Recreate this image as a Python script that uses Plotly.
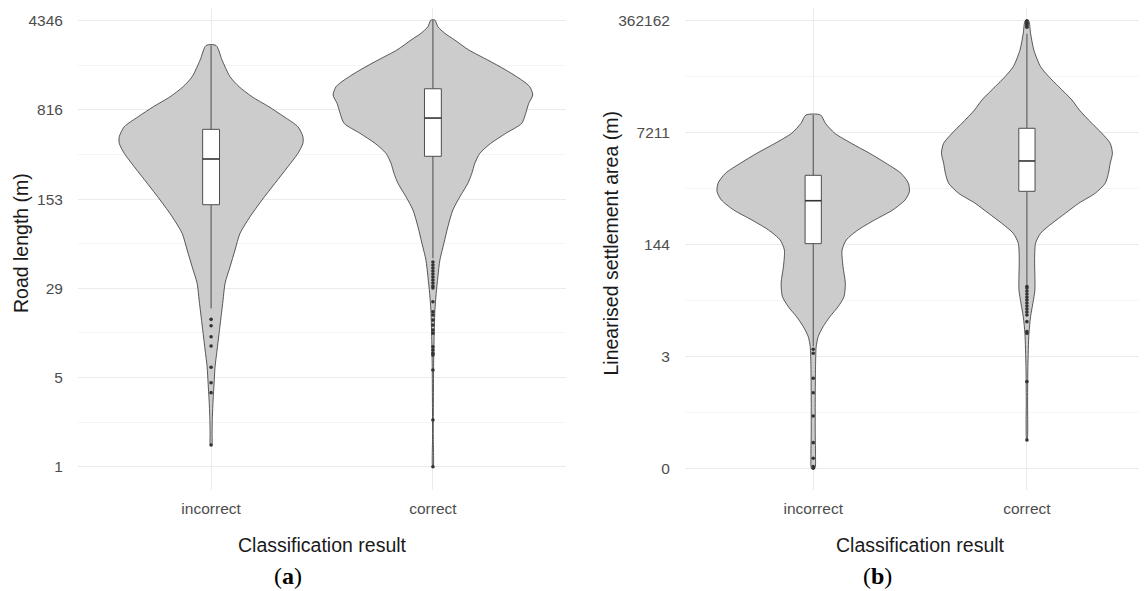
import numpy as np
import plotly.graph_objects as go

CATEGORIES = ["incorrect", "correct"]
X_TITLE = "Classification result"

# ---------------- Panel (a): road length, values given as log10(m) ----------------
A_TICK_LABELS = ["1", "5", "29", "153", "816", "4346"]
A_AXIS_MIN, A_AXIS_MAX = 1.0, 4346.0

# violin outline: log10 level and relative density (1 = widest violin of the panel)
A_INC_LOG10 = [3.436, 3.317, 3.181, 3.100, 3.018, 2.936, 2.855, 2.773, 2.692, 2.638, 2.556,
               2.447, 2.312, 2.175, 2.039, 1.904, 1.768, 1.631, 1.496, 1.360, 1.223, 1.088,
               0.952, 0.816, 0.680, 0.544, 0.408, 0.272, 0.177]
A_INC_DENS = [0.05, 0.11, 0.19, 0.28, 0.41, 0.58, 0.73, 0.87, 0.92, 0.92, 0.87,
              0.77, 0.64, 0.51, 0.39, 0.29, 0.24, 0.19, 0.14, 0.12, 0.10, 0.08,
              0.06, 0.04, 0.03, 0.02, 0.013, 0.01, 0.007]
A_COR_LOG10 = [3.643, 3.589, 3.535, 3.480, 3.399, 3.317, 3.236, 3.154, 3.100, 3.032, 2.964,
               2.883, 2.801, 2.719, 2.638, 2.556, 2.475, 2.393, 2.312, 2.202, 2.094, 1.958,
               1.822, 1.686, 1.550, 1.414, 1.278, 1.088, 0.816, 0.544, 0.272, 0.0]
A_COR_DENS = [0.02, 0.05, 0.12, 0.22, 0.36, 0.55, 0.73, 0.89, 0.97, 1.0, 0.96,
              0.93, 0.89, 0.73, 0.58, 0.47, 0.42, 0.39, 0.35, 0.27, 0.20, 0.15,
              0.11, 0.07, 0.05, 0.033, 0.02, 0.013, 0.007, 0.005, 0.003, 0.003]
# box stats: lower whisker, q1, median, q3, upper whisker
A_INC_BOX = [1.292, 2.137, 2.510, 2.752, 3.436]
A_COR_BOX = [1.700, 2.532, 2.844, 3.083, 3.643]
A_INC_OUT = [1.202, 1.150, 1.060, 0.985, 0.811, 0.685, 0.604, 0.177]
A_COR_OUT = [1.670, 1.645, 1.621, 1.596, 1.572, 1.548, 1.523, 1.499, 1.474, 1.458, 1.346,
             1.264, 1.237, 1.196, 1.156, 1.115, 1.088, 0.979, 0.952, 0.925, 0.911, 0.789,
             0.381, 0.0]

# ---------------- Panel (b): linearised settlement area, log10(m) ----------------
B_TICK_LABELS = ["0", "3", "144", "7211", "362162"]
B_AXIS_MIN, B_AXIS_MAX = 0.057, 362162.0

B_INC_LOG10 = [4.126, 4.000, 3.848, 3.696, 3.544, 3.392, 3.240, 3.088, 2.960, 2.834, 2.682,
               2.530, 2.378, 2.226, 2.074, 1.820, 1.568, 1.364, 1.212, 1.060, 0.909, 0.757,
               0.605, 0.301, -0.205, -0.712, -1.067, -1.243]
B_INC_DENS = [0.076, 0.127, 0.224, 0.396, 0.586, 0.758, 0.913, 0.99, 1.0, 0.955, 0.827,
              0.638, 0.465, 0.344, 0.30, 0.31, 0.334, 0.32, 0.259, 0.173, 0.103, 0.052,
              0.031, 0.024, 0.021, 0.021, 0.024, 0.018]
B_COR_LOG10 = [5.559, 5.368, 5.114, 4.860, 4.708, 4.556, 4.354, 4.202, 4.000, 3.848, 3.696,
               3.544, 3.392, 3.240, 3.088, 2.936, 2.784, 2.632, 2.480, 2.328, 2.176, 1.922,
               1.668, 1.466, 1.264, 1.060, 0.807, 0.301, -0.205, -0.813]
B_COR_DENS = [0.018, 0.038, 0.072, 0.142, 0.228, 0.331, 0.468, 0.545, 0.675, 0.779, 0.866,
              0.889, 0.866, 0.848, 0.814, 0.71, 0.538, 0.40, 0.262, 0.142, 0.09, 0.08,
              0.083, 0.083, 0.062, 0.038, 0.021, 0.01, 0.007, 0.003]
B_INC_BOX = [0.611, 2.170, 2.823, 3.209, 4.126]
B_COR_BOX = [1.529, 2.966, 3.427, 3.924, 5.361]
B_INC_OUT = [0.565, 0.504, 0.124, -0.095, -0.449, -0.854, -1.092, -1.219, -1.243]
B_COR_OUT = [5.559, 5.54, 5.52, 5.50, 5.48, 5.46,
             1.52, 1.497, 1.451, 1.406, 1.360, 1.315, 1.269, 1.223, 1.178, 1.132, 1.087,
             0.985, 0.833, 0.808, 0.073, -0.813]

# ---------------- styling ----------------
PAGE_PAD = 8                      # default body margin of the html page
W, H = 1147 - PAGE_PAD, 591 - PAGE_PAD
VIOLIN_FILL = "#cccccc"
OUTLINE = "#333333"
BOX_LINE = "#4d4d4d"
GRID_MAJOR = "#ebebeb"
GRID_MINOR = "#f5f5f5"
TICK_FONT = dict(family="Liberation Sans, Arial, sans-serif", size=15.5, color="#4d4d4d")
TITLE_FONT = dict(family="Liberation Sans, Arial, sans-serif", size=19.5, color="#1a1a1a")
LABEL_FONT = dict(family="Liberation Serif, DejaVu Serif, serif", size=24, color="black")
MAX_HALF = 0.45
BOX_HALF = 0.038


def px(x):
    return (x - PAGE_PAD) / W


def py(y):
    return 1 - (y - PAGE_PAD) / H


fig = go.Figure()


def add_group(xpos, levels, dens, box, outliers, xa, ya):
    lv = np.array(levels)
    hw = np.array(dens) * MAX_HALF
    xs = np.concatenate([xpos + hw, (xpos - hw)[::-1]])
    ys = np.concatenate([lv, lv[::-1]])
    xs = np.append(xs, xs[0])
    ys = np.append(ys, ys[0])
    common = dict(showlegend=False, hoverinfo="skip", xaxis=xa, yaxis=ya)
    # violin body
    fig.add_trace(go.Scatter(x=xs, y=ys, mode="lines", fill="toself", fillcolor=VIOLIN_FILL,
                             line=dict(color=OUTLINE, width=0.8, shape="spline", smoothing=0.7),
                             **common))
    lo, q1, med, q3, hi = box
    # whiskers
    fig.add_trace(go.Scatter(x=[xpos, xpos, None, xpos, xpos], y=[lo, q1, None, q3, hi],
                             mode="lines", line=dict(color=BOX_LINE, width=1), **common))
    # box
    fig.add_trace(go.Scatter(x=[xpos - BOX_HALF, xpos + BOX_HALF, xpos + BOX_HALF,
                                xpos - BOX_HALF, xpos - BOX_HALF],
                             y=[q1, q1, q3, q3, q1], mode="lines", fill="toself",
                             fillcolor="white", line=dict(color=BOX_LINE, width=1), **common))
    # median
    fig.add_trace(go.Scatter(x=[xpos - BOX_HALF, xpos + BOX_HALF], y=[med, med], mode="lines",
                             line=dict(color=OUTLINE, width=1.6), **common))
    # outliers
    fig.add_trace(go.Scatter(x=[xpos] * len(outliers), y=outliers, mode="markers",
                             marker=dict(color=OUTLINE, size=3.6), **common))


add_group(1, A_INC_LOG10, A_INC_DENS, A_INC_BOX, A_INC_OUT, "x", "y")
add_group(2, A_COR_LOG10, A_COR_DENS, A_COR_BOX, A_COR_OUT, "x", "y")
add_group(1, B_INC_LOG10, B_INC_DENS, B_INC_BOX, B_INC_OUT, "x2", "y2")
add_group(2, B_COR_LOG10, B_COR_DENS, B_COR_BOX, B_COR_OUT, "x2", "y2")

a_ticks = np.linspace(np.log10(A_AXIS_MIN), np.log10(A_AXIS_MAX), len(A_TICK_LABELS))
b_ticks = np.linspace(np.log10(B_AXIS_MIN), np.log10(B_AXIS_MAX), len(B_TICK_LABELS))


def yaxis_cfg(ticks, labels, rng):
    minor = (ticks[:-1] + ticks[1:]) / 2
    return dict(range=rng, tickvals=list(ticks), ticktext=labels, showgrid=True,
                gridcolor=GRID_MAJOR, gridwidth=1, zeroline=False, showline=False,
                ticks="outside", ticklen=11, tickcolor="rgba(0,0,0,0)", tickfont=TICK_FONT,
                minor=dict(tickvals=list(minor), showgrid=True, gridcolor=GRID_MINOR,
                           gridwidth=1, ticks=""),
                domain=[py(490), 1.0])


def xaxis_cfg(dom, rng):
    return dict(domain=dom, range=rng, tickvals=[1, 2], ticktext=CATEGORIES, showgrid=True,
                gridcolor=GRID_MAJOR, gridwidth=1, zeroline=False, showline=False,
                ticks="outside", ticklen=4, tickcolor="rgba(0,0,0,0)", tickfont=TICK_FONT)


# panel geometry in reference pixels
a_left, a_right = 78, 566
b_left, b_unit = 685, 213.7
a_t_per_px = np.log10(A_AXIS_MAX) / (466.7 - 20.7)
b_t_per_px = (np.log10(B_AXIS_MAX) - np.log10(B_AXIS_MIN)) / (468.3 - 20.7)
top_px, bottom_px = PAGE_PAD, 490
a_range = [(466.7 - bottom_px) * a_t_per_px, (466.7 - top_px) * a_t_per_px]
b_range = [np.log10(B_AXIS_MAX) - (bottom_px - 20.7) * b_t_per_px,
           np.log10(B_AXIS_MAX) + (20.7 - top_px) * b_t_per_px]

fig.update_layout(
    width=W, height=H, margin=dict(l=0, r=0, t=0, b=0),
    paper_bgcolor="white", plot_bgcolor="white", showlegend=False,
    xaxis=xaxis_cfg([px(a_left), px(a_right)], [0.4, 2.6]),
    xaxis2=xaxis_cfg([px(b_left), 1.0], [0.4, 0.4 + (1147 - b_left) / b_unit]),
    yaxis=yaxis_cfg(a_ticks, A_TICK_LABELS, a_range),
    yaxis2=yaxis_cfg(b_ticks, B_TICK_LABELS, b_range),
)
fig.update_layout(yaxis2=dict(anchor="x2"), xaxis2=dict(anchor="y2"))

ann = [
    dict(text=X_TITLE, x=px(322), y=py(545), font=TITLE_FONT),
    dict(text=X_TITLE, x=px(920), y=py(545), font=TITLE_FONT),
    dict(text="Road length (m)", x=px(21), y=py(243), textangle=-90, font=TITLE_FONT),
    dict(text="Linearised settlement area (m)", x=px(610), y=py(243.5), textangle=-90,
         font=TITLE_FONT),
    dict(text="(<b>a</b>)", x=px(288), y=py(576), font=LABEL_FONT),
    dict(text="(<b>b</b>)", x=px(877), y=py(576), font=LABEL_FONT),
]
for a in ann:
    a.update(xref="paper", yref="paper", showarrow=False, xanchor="center", yanchor="middle")
fig.update_layout(annotations=ann)

fig.write_html("out.html")
